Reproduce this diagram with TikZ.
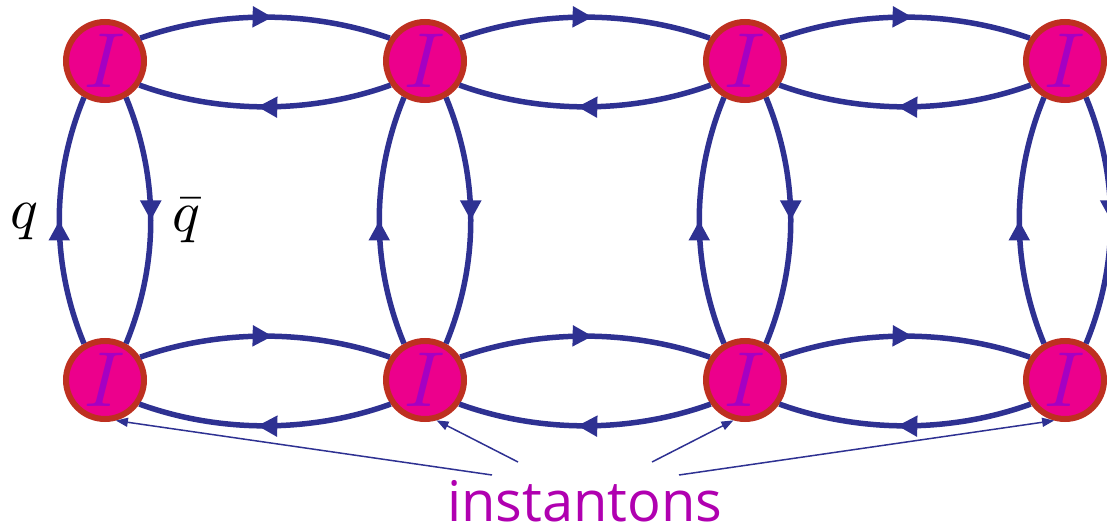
\documentclass[tikz,border=0pt]{standalone}
\usepackage{graphicx}
\usepackage{fontspec}
\newfontfamily\instfont{Open Sans}
\usetikzlibrary{arrows.meta,decorations.markings}
\definecolor{lineblue}{RGB}{46,49,146}
\definecolor{instpink}{RGB}{236,0,140}
\definecolor{ringred}{RGB}{190,48,32}
\definecolor{ipurple}{RGB}{165,0,195}
\definecolor{instmag}{RGB}{176,0,176}
\newcommand{\bigmath}[2]{\scalebox{#1}{$#2$}}
\begin{document}
\begin{tikzpicture}[x=1pt,y=1pt,
  inst/.style={circle, draw=ringred, fill=instpink, line width=6pt,
    minimum size=78pt, inner sep=0pt, text=ipurple},
  prop/.style={draw, color=lineblue, line width=5.5pt, postaction={decorate},
    decoration={markings, mark=at position #1 with {\arrow{Triangle[length=20pt,width=20pt]}}}},
  prop/.default=0.53,
  pointer/.style={draw=lineblue, line width=1.5pt, -{Triangle[length=12pt,width=9pt,color=lineblue]}},
  mathlbl/.style={anchor=base, inner sep=0pt}]
\path[use as bounding box] (0,0) rectangle (1107,528);
\clip (0,0) rectangle (1107,528);
% instantons
\foreach \i/\x in {1/105,2/425,3/745,4/1065}{
  \node[inst] (t\i) at (\x,467) {\bigmath{7.8}{I}};
  \node[inst] (b\i) at (\x,148) {\bigmath{7.8}{I}};
}
% horizontal propagators
\foreach \r in {t,b}{
  \foreach \i/\j in {1/2,2/3,3/4}{
    \draw[prop] (\r\i.33) .. controls +(80,28) and +(-80,28) .. (\r\j.147);
    \draw[prop] (\r\j.-145) .. controls +(-80,-29) and +(80,-29) .. (\r\i.-35);
  }
}
% vertical propagators
\foreach \i in {1,2,3,4}{
  \draw[prop=0.5] (b\i.120) .. controls +(-33,80) and +(-33,-80) .. (t\i.240);
  \draw[prop=0.5] (t\i.-60) .. controls +(33,-80) and +(33,80) .. (b\i.60);
}
% labels
\node[mathlbl] (q) at (24,299) {\bigmath{5.8}{q}};
\node[mathlbl] (qb) at (186,296) {\bigmath{5.8}{\bar{q}}};
\node[anchor=base, inner sep=0pt, text=instmag, font=\instfont\fontsize{56}{60}\selectfont] (lbl) at (585,7) {instantons};
% pointers
\coordinate (s1) at (492,53);
\coordinate (s2) at (518,66);
\coordinate (s3) at (652,66);
\coordinate (s4) at (679,53);
\draw[pointer] (s1) -- (b1.-75);
\draw[pointer] (s2) -- (b2.-74);
\draw[pointer] (s3) -- (b3.-106);
\draw[pointer] (s4) -- (b4.-105);
\end{tikzpicture}
\end{document}
